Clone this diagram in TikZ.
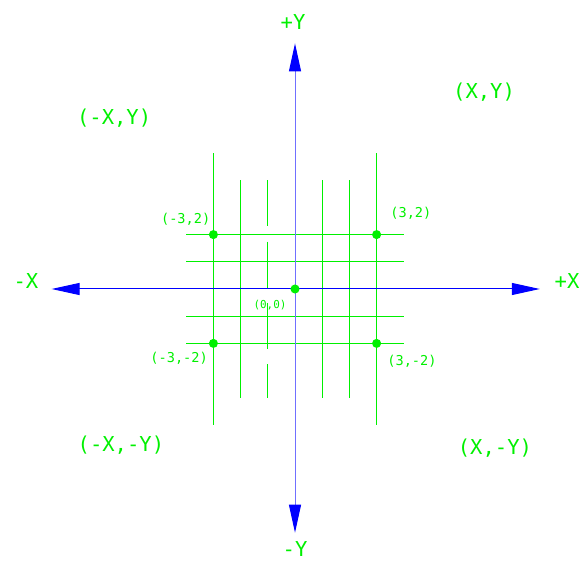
\documentclass[tikz,border=0pt]{standalone}
\usepackage{fontspec}
\setmonofont{DejaVu Sans Mono}
\usetikzlibrary{arrows.meta}
\definecolor{cadgreen}{HTML}{00F000}
\definecolor{cadblue}{HTML}{0000FF}
\definecolor{cadlightblue}{HTML}{7070FF}

\begin{document}
\begin{tikzpicture}[
  x=20.4pt,y=20.4pt,
  every node/.style={text=cadgreen,inner sep=0pt},
  quadlabel/.style={font=\ttfamily\fontsize{15.4}{16}\selectfont},
  ptlabel/.style={font=\ttfamily\fontsize{10.2}{12}\selectfont},
  gridline/.style={draw=cadgreen,line width=0.75pt},
  axis/.style={draw=cadblue,line width=0.75pt,
    {Triangle[length=21pt,width=9pt,color=cadblue]}-{Triangle[length=21pt,width=9pt,color=cadblue]}},
  dot/.style={circle,fill=cadgreen,minimum size=6.8pt,inner sep=0pt}
]
\useasboundingbox (-10.846,-10.0) rectangle (10.478,10.625);

% grid
\foreach \gx in {-3,3} \draw[gridline] (\gx,-5) -- (\gx,5);
\foreach \gx in {-2,1,2} \draw[gridline] (\gx,-4) -- (\gx,4);
\draw[gridline,dash pattern=on 34.5pt off 11.5pt] (-1,4) -- (-1,-4);
\foreach \gy in {-2,-1,1,2} \draw[gridline] (-4,\gy) -- (4,\gy);

% axes
\coordinate (xneg) at (-8.95,0);
\coordinate (xpos) at (9.0,0);
\coordinate (ypos) at (0,9.03);
\coordinate (yneg) at (0,-8.96);
\draw[axis] (xneg) -- (xpos);
\draw[axis,draw=cadlightblue] (yneg) -- (ypos);

\node[quadlabel] (lxneg) at (-9.89,0.29) {-X};
\node[quadlabel] (lxpos) at (10.0,0.29) {+X};
\node[quadlabel] (lypos) at (-0.07,9.82) {+Y};
\node[quadlabel] (lyneg) at (0,-9.55) {-Y};

% quadrants
\node[quadlabel] (q1) at (6.95,7.22) {(X,Y)};
\node[quadlabel] (q2) at (-6.65,6.27) {(-X,Y)};
\node[quadlabel] (q3) at (-6.4,-5.74) {(-X,-Y)};
\node[quadlabel] (q4) at (7.35,-5.86) {(X,-Y)};

% points
\node[dot] (o) at (0,0) {};
\node[dot] (pa) at (-3,2) {};
\node[dot] (pb) at (3,2) {};
\node[dot] (pc) at (-3,-2) {};
\node[dot] (pd) at (3,-2) {};
\node[ptlabel,font=\ttfamily\fontsize{8.2}{9}\selectfont] (lo) at (-0.92,-0.61) {(0,0)};
\node[ptlabel] (la) at (-4.02,2.55) {(-3,2)};
\node[ptlabel] (lb) at (4.26,2.79) {(3,2)};
\node[ptlabel] (lc) at (-4.26,-2.54) {(-3,-2)};
\node[ptlabel] (ld) at (4.3,-2.65) {(3,-2)};
\end{tikzpicture}
\end{document}
